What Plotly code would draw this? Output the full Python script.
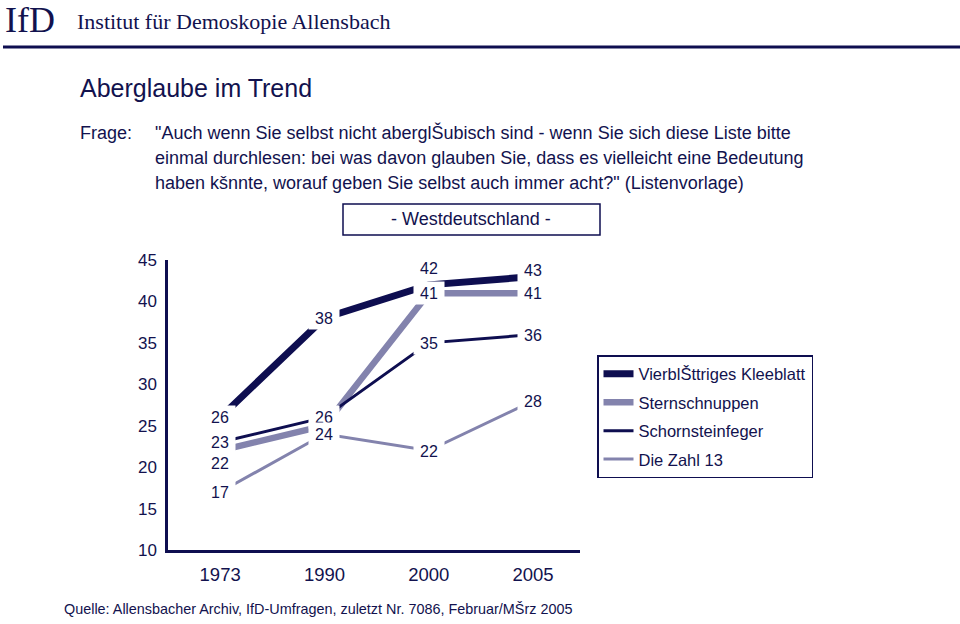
import plotly.graph_objects as go

# ---- data ----
years = ["1973", "1990", "2000", "2005"]
series_names = ["VierblŠttriges Kleeblatt", "Sternschnuppen", "Schornsteinfeger", "Die Zahl 13"]
kleeblatt = [26, 38, 42, 43]
sternschnuppen = [22, 25, 41, 41]
schornsteinfeger = [23, 26, 35, 36]
zahl13 = [17, 24, 22, 28]
# labels shown next to the points (None = not labelled)
kleeblatt_labels = ["26", "38", "42", "43"]
sternschnuppen_labels = ["22", None, "41", "41"]
schornsteinfeger_labels = ["23", "26", "35", "36"]
zahl13_labels = ["17", "24", "22", "28"]
y_ticks = [10, 15, 20, 25, 30, 35, 40, 45]

# ---- styles ----
NAVY = "#0e0e50"
LIGHT = "#8383ad"
TEXT = "#12124e"
SANS = "Liberation Sans, Arial, sans-serif"
SERIF = "Liberation Serif, Times New Roman, serif"

W, H = 960, 624
PL, PR, PT, PB = 168, 580, 260, 550


def px(x):
    return (x - PL) / (PR - PL)


def py(y):
    return (PB - y) / (PB - PT)


series = [
    (series_names[0], kleeblatt, kleeblatt_labels, NAVY, 7),
    (series_names[1], sternschnuppen, sternschnuppen_labels, LIGHT, 6.5),
    (series_names[2], schornsteinfeger, schornsteinfeger_labels, NAVY, 3),
    (series_names[3], zahl13, zahl13_labels, LIGHT, 3),
]
# vertical pixel shifts for labels that would otherwise collide
label_shift = {(0, 2): 17, (0, 3): 7, (1, 0): -12}

fig = go.Figure()
for name, vals, _, col, lw in series:
    fig.add_trace(go.Scatter(
        x=years, y=vals, mode="lines", name=name, legendgroup=name,
        line=dict(color=col, width=lw), hoverinfo="skip",
    ))

annotations = []
for si, (name, vals, labels, col, lw) in enumerate(series):
    for i, (v, lab) in enumerate(zip(vals, labels)):
        if lab is None:
            continue
        annotations.append(dict(
            x=i, y=v, xref="x", yref="y", text=lab, showarrow=False,
            yshift=label_shift.get((si, i), 0),
            font=dict(family=SANS, size=16, color=TEXT),
            bgcolor="white", width=30, height=22, borderpad=0,
        ))


def txt(x, y, text, size, family=SANS, xanchor="left", color=TEXT):
    annotations.append(dict(
        x=px(x), y=py(y), xref="paper", yref="paper", text=text, showarrow=False,
        xanchor=xanchor, yanchor="middle", font=dict(family=family, size=size, color=color),
    ))


txt(3, 20, "IfD", 36, SERIF)
txt(75, 21, "Institut für Demoskopie Allensbach", 22, SERIF)
txt(78, 88, "Aberglaube im Trend", 25)
txt(78, 133, "Frage:", 18)
q_lines = [
    "\"Auch wenn Sie selbst nicht aberglŠubisch sind - wenn Sie sich diese Liste bitte",
    "einmal durchlesen: bei was davon glauben Sie, dass es vielleicht eine Bedeutung",
    "haben kšnnte, worauf geben Sie selbst auch immer acht?\" (Listenvorlage)",
]
for k, line in enumerate(q_lines):
    txt(153, 133 + 25 * k, line, 18)
txt(471, 219, "- Westdeutschland -", 18, xanchor="center")
txt(62, 609, "Quelle: Allensbacher Archiv, IfD-Umfragen, zuletzt Nr. 7086, Februar/MŠrz 2005", 14.4)

shapes = [
    dict(type="line", xref="paper", yref="paper", x0=px(3), x1=px(962), y0=py(47), y1=py(47),
         line=dict(color=NAVY, width=3)),
    dict(type="rect", xref="paper", yref="paper", x0=px(343), x1=px(600), y0=py(235), y1=py(204),
         line=dict(color=NAVY, width=1.5), fillcolor="rgba(0,0,0,0)"),
]

fig.update_layout(
    width=W, height=H,
    margin=dict(l=PL, r=W - PR, t=PT, b=H - PB, pad=0),
    paper_bgcolor="white", plot_bgcolor="white",
    showlegend=True,
    legend=dict(
        x=px(597), y=py(355), xanchor="left", yanchor="top",
        bordercolor=NAVY, borderwidth=1.5, bgcolor="white",
        font=dict(family=SANS, size=16.5, color=TEXT),
        tracegroupgap=4, itemwidth=30,
    ),
    xaxis=dict(
        type="category", range=[-0.5, 3.45], showgrid=False, zeroline=False,
        showline=True, linecolor=NAVY, linewidth=2.5, ticks="",
        tickfont=dict(family=SANS, size=18.5, color=TEXT), ticklabelstandoff=6,
    ),
    yaxis=dict(
        range=[10, 45], tickvals=y_ticks, showgrid=False, zeroline=False,
        showline=True, linecolor=NAVY, linewidth=2.5, ticks="",
        tickfont=dict(family=SANS, size=17, color=TEXT), ticklabelstandoff=5,
    ),
    annotations=annotations,
    shapes=shapes,
)

fig.write_html("out.html", config={"displayModeBar": False},
               post_script="document.body.style.margin='0px';")
